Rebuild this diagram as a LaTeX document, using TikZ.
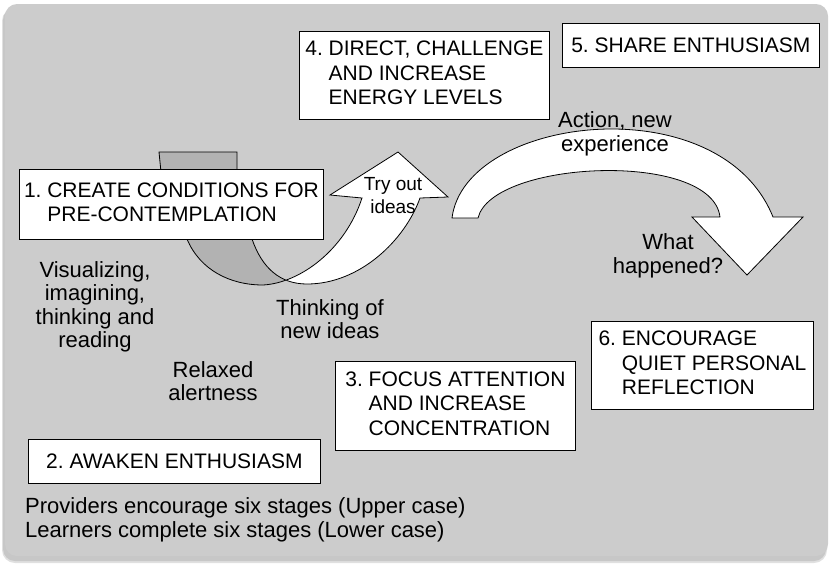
\documentclass[tikz,border=0pt]{standalone}
\usepackage{fontspec}
\setmainfont{Liberation Sans}
\usetikzlibrary{intersections}

\newcommand\stagetext[2]{\begin{tabular}{@{}l@{\ }l@{}}#1&#2\end{tabular}}

\begin{document}
\frenchspacing
\begin{tikzpicture}[x=1pt,y=-1pt,
                    stagebox/.style={draw,fill=white,line width=0.8pt,inner sep=0pt,anchor=north west,
                                     font=\fontsize{21}{24.5}\selectfont},
                    cue/.style={align=center,inner sep=0pt,font=\fontsize{22}{23.5}\selectfont},
                    band/.style={draw,line width=0.8pt,line join=miter}]
  \useasboundingbox (0,0) rectangle (833,566);
  % panel with soft shadow
  \fill[black!12,rounded corners=13pt] (2,8) rectangle (827,563);
  \fill[black!22,rounded corners=12pt] (3,8) rectangle (826,561);
  \fill[black!20,rounded corners=12pt] (5,4) rectangle (828,556);

  % twisted ribbon arrow
  \def\ribbon{(159,152) -- (161,172) .. controls (170,205) and (180,225) .. (187,239)
    .. controls (200,270) and (230,285) .. (263,285) .. controls (300,283) and (345,250) .. (362,198)
    -- (330,195) -- (398,152) -- (448,197) -- (420,198)
    .. controls (405,240) and (360,284) .. (307,284) .. controls (280,284) and (262,268) .. (252,239)
    .. controls (247,225) and (240,200) .. (237,172) -- (237,152) -- cycle}
  \path[name path=edgeA] (187,239) .. controls (200,270) and (230,285) .. (263,285)
    .. controls (300,283) and (345,250) .. (362,198);
  \path[name path=edgeB] (252,239) .. controls (262,268) and (280,284) .. (307,284)
    .. controls (360,284) and (405,240) .. (420,198);
  \coordinate[name intersections={of=edgeA and edgeB,by=twist}];
  \begin{scope}
    \clip (twist) ++(0,-600) rectangle (-10,700);
    \fill[black!30] \ribbon;
  \end{scope}
  \begin{scope}
    \clip (twist) ++(0,-600) rectangle (900,700);
    \fill[white] \ribbon;
  \end{scope}
  \path[band] \ribbon;

  % big arc arrow
  \path[band,fill=white] (452,218) .. controls (465,115) and (720,85) .. (773,217)
    -- (803,217) -- (747,275) -- (692,217) -- (720,217)
    .. controls (712,150) and (492,160) .. (478,218) -- cycle;

  % stages
  \node[stagebox,minimum width=304pt,minimum height=70pt] (create) at (19,169)
    {\stagetext{1.}{CREATE CONDITIONS FOR\\&PRE-CONTEMPLATION}};
  \node[stagebox,minimum width=292pt,minimum height=44pt] (awaken) at (28,439)
    {2. AWAKEN ENTHUSIASM};
  \node[stagebox,minimum width=240pt,minimum height=89pt] (focus) at (335,361)
    {\stagetext{3.}{FOCUS ATTENTION\\&AND INCREASE\\&CONCENTRATION}};
  \node[stagebox,minimum width=250pt,minimum height=88pt] (direct) at (299,31)
    {\stagetext{4.}{DIRECT, CHALLENGE\\&AND INCREASE\\&ENERGY LEVELS}};
  \node[stagebox,minimum width=257pt,minimum height=44pt] (share) at (562,23)
    {5. SHARE ENTHUSIASM};
  \node[stagebox,minimum width=222pt,minimum height=88pt] (reflect) at (591,321)
    {\stagetext{6.}{ENCOURAGE\\&QUIET PERSONAL\\&REFLECTION}};

  % learner activities
  \node[cue] (visual) at (95,307) {Visualizing,\\imagining,\\thinking and\\reading};
  \node[cue] (relaxed) at (213,381) {Relaxed\\alertness};
  \node[cue] (thinking) at (330,319) {Thinking of\\new ideas};
  \node[cue,font=\fontsize{19}{23}\selectfont] (tryout) at (393,196) {Try out\\ideas};
  \node[cue] (action) at (615,134) {Action, new\\experience};
  \node[cue] (happened) at (668,256) {What\\happened?};
  \node[cue,align=left,anchor=base west] (legend) at (25,537)
    {Providers encourage six stages (Upper case)\\Learners complete six stages (Lower case)};
\end{tikzpicture}
\end{document}
